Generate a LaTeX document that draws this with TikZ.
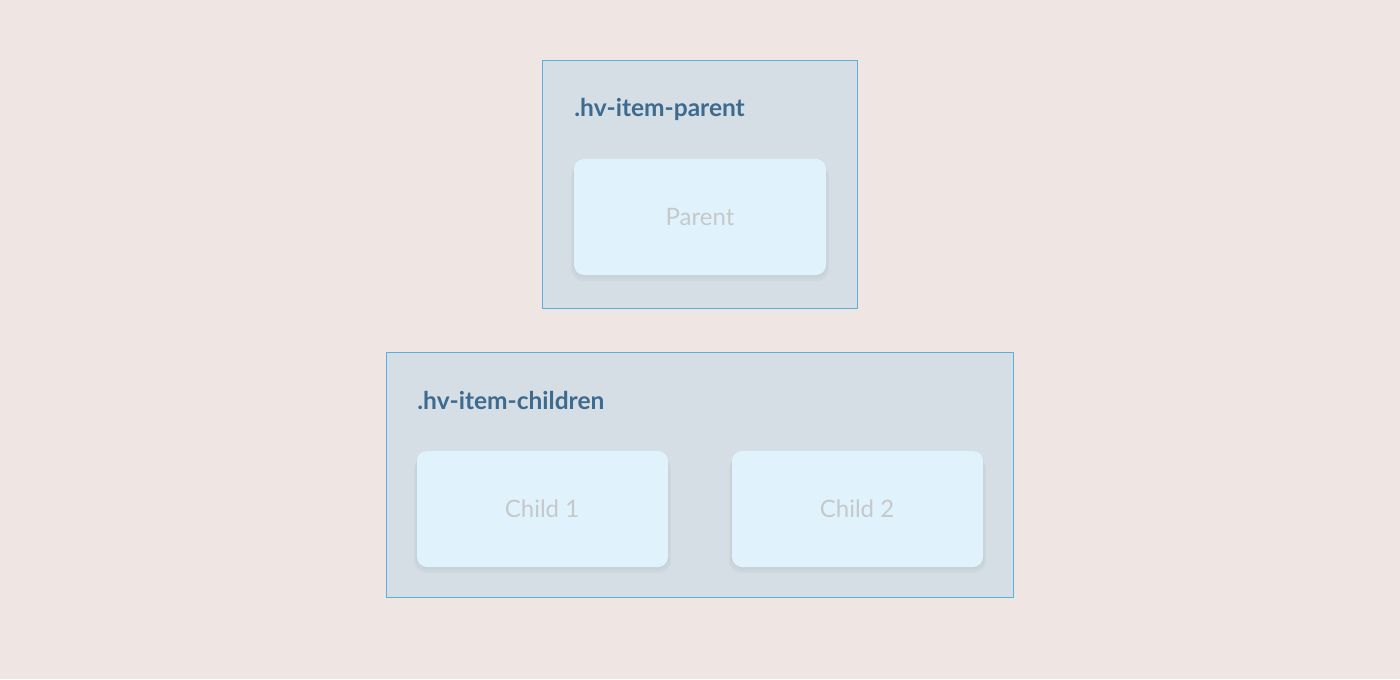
\documentclass[tikz,border=0pt]{standalone}
\usepackage{fontspec}
\setmainfont{Lato}
\definecolor{bg}{HTML}{EFE6E4}
\definecolor{contfill}{HTML}{D4DEE4}
\definecolor{contline}{HTML}{5AAFDD}
\definecolor{boxfill}{HTML}{E0F2FC}
\definecolor{labelcol}{HTML}{3D6A8F}
\definecolor{textcol}{HTML}{C6C8CA}
\definecolor{shadowcol}{HTML}{B8C4CC}
\begin{document}
\begin{tikzpicture}[x=0.5pt,y=-0.5pt,
  container/.style={draw=contline, line width=0.5pt, fill=contfill},
  itembox/.style={fill=boxfill, rounded corners=5pt},
  shade/.style={fill=shadowcol, rounded corners=6pt, opacity=0.18},
  lbl/.style={anchor=base west, text=labelcol, font=\bfseries\fontsize{12.25}{15}\selectfont, inner sep=0pt},
  itemtext/.style={text=textcol, font=\fontsize{12}{14}\selectfont, inner sep=0pt}]
\fill[bg] (0,0) rectangle (1400,679);
\useasboundingbox (0,0) rectangle (1400,679);
% parent container
\draw[container] (542.5,60.5) rectangle (857.5,308.5);
\node[lbl] (lp) at (574,117) {.hv-item-parent};
\foreach \d in {2,4,6}{\fill[shade] (574-\d/2,159+\d) rectangle (826+\d/2,275+\d);}
\fill[itembox] (574,159) rectangle (826,275);
\node[itemtext] (parent) at (700,217) {Parent};
% children container
\draw[container] (386.5,352.5) rectangle (1013.5,597.5);
\node[lbl] (lc) at (417,409) {.hv-item-children};
\foreach \d in {2,4,6}{\fill[shade] (417-\d/2,451+\d) rectangle (668+\d/2,567+\d);}
\fill[itembox] (417,451) rectangle (668,567);
\node[itemtext] (c1) at (542,509) {Child 1};
\foreach \d in {2,4,6}{\fill[shade] (732-\d/2,451+\d) rectangle (983+\d/2,567+\d);}
\fill[itembox] (732,451) rectangle (983,567);
\node[itemtext] (c2) at (857,509) {Child 2};
\end{tikzpicture}
\end{document}
